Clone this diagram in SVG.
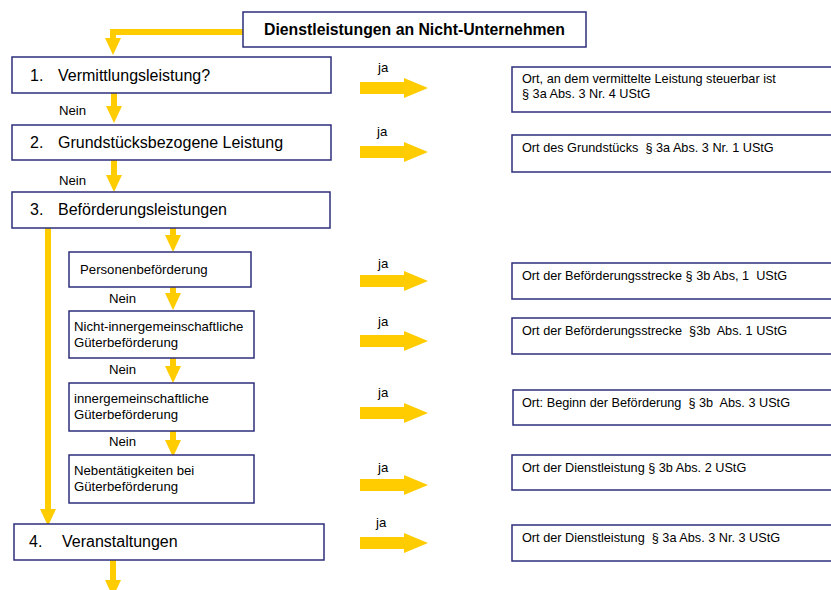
<svg xmlns="http://www.w3.org/2000/svg" width="831" height="590" viewBox="0 0 831 590">
<style>
.box{fill:#fff;stroke:#2e2e7c;stroke-width:1.5}
.t{font-family:"Liberation Sans",Arial,sans-serif;fill:#000;white-space:pre}
.big{font-size:16px}
.title{font-size:15.8px;font-weight:bold}
.sm{font-size:13.2px}
.rt{font-size:12.7px}
.ys{stroke:#FFCC00;stroke-width:6;fill:none}
</style>
<defs>
<path id="ra" d="M0,-6 H44 V-10 L68,0 L44,10 V6 H0 Z" fill="#FFCC00"/>
<path id="da" d="M-8,0 L8,0 L0,17 Z" fill="#FFCC00"/>
</defs>
<rect width="831" height="590" fill="#fff"/>
<g id="connectors">
<polyline class="ys" points="243,32 113,32 113,39"/>
<use href="#da" x="113" y="38"/>
<line class="ys" x1="114" y1="93" x2="114" y2="107"/>
<use href="#da" x="114" y="106"/>
<line class="ys" x1="114" y1="160" x2="114" y2="176"/>
<use href="#da" x="114" y="175"/>
<line class="ys" x1="173" y1="228" x2="173" y2="236"/>
<use href="#da" x="173" y="235"/>
<line class="ys" x1="173" y1="287" x2="173" y2="294"/>
<use href="#da" x="173" y="293"/>
<line class="ys" x1="173" y1="358" x2="173" y2="367"/>
<use href="#da" x="173" y="366"/>
<line class="ys" x1="173" y1="431" x2="173" y2="441"/>
<use href="#da" x="173" y="440"/>
<line class="ys" x1="48" y1="228" x2="48" y2="511"/>
<use href="#da" x="48" y="509"/>
<line class="ys" x1="113" y1="560" x2="113" y2="581"/>
<use href="#da" x="113" y="580"/>
<use href="#ra" x="360" y="88"/>
<use href="#ra" x="360" y="152"/>
<use href="#ra" x="360" y="281"/>
<use href="#ra" x="360" y="341"/>
<use href="#ra" x="360" y="413"/>
<use href="#ra" x="360" y="485"/>
<use href="#ra" x="360" y="543"/>
<text class="t sm" x="378" y="72">ja</text>
<text class="t sm" x="377" y="136">ja</text>
<text class="t sm" x="378" y="268">ja</text>
<text class="t sm" x="378" y="326">ja</text>
<text class="t sm" x="378" y="397">ja</text>
<text class="t sm" x="378" y="472">ja</text>
<text class="t sm" x="376" y="527">ja</text>
<text class="t sm" x="59" y="115">Nein</text>
<text class="t sm" x="59" y="185">Nein</text>
<text class="t sm" x="109" y="303">Nein</text>
<text class="t sm" x="109" y="374">Nein</text>
<text class="t sm" x="109" y="446">Nein</text>
</g>
<g id="title">
<rect class="box" x="243" y="12" width="343" height="35"/>
<text class="t title" x="414.5" y="35" text-anchor="middle">Dienstleistungen an Nicht-Unternehmen</text>
</g>
<g id="n1">
<rect class="box" x="12" y="57" width="319" height="36"/>
<text class="t big" x="30" y="81">1.</text>
<text class="t big" x="58" y="81">Vermittlungsleistung?</text>
</g>
<g id="n2">
<rect class="box" x="12" y="125" width="319" height="35"/>
<text class="t big" x="30" y="148">2.</text>
<text class="t big" x="58" y="148">Grundstücksbezogene Leistung</text>
</g>
<g id="n3">
<rect class="box" x="12" y="192" width="318" height="36"/>
<text class="t big" x="30" y="215">3.</text>
<text class="t big" x="58" y="215">Beförderungsleistungen</text>
</g>
<g id="n3a">
<rect class="box" x="69" y="252" width="182" height="35"/>
<text class="t sm" x="80" y="274">Personenbeförderung</text>
</g>
<g id="n3b">
<rect class="box" x="69" y="311" width="185" height="47"/>
<text class="t sm" x="74" y="331">Nicht-innergemeinschaftliche</text>
<text class="t sm" x="74" y="347">Güterbeförderung</text>
</g>
<g id="n3c">
<rect class="box" x="69" y="383" width="185" height="48"/>
<text class="t sm" x="74" y="403">innergemeinschaftliche</text>
<text class="t sm" x="74" y="419">Güterbeförderung</text>
</g>
<g id="n3d">
<rect class="box" x="69" y="455" width="185" height="48"/>
<text class="t sm" x="74" y="475">Nebentätigkeiten bei</text>
<text class="t sm" x="74" y="491">Güterbeförderung</text>
</g>
<g id="n4">
<rect class="box" x="14" y="524" width="310" height="36"/>
<text class="t big" x="29" y="547">4.</text>
<text class="t big" x="62" y="547">Veranstaltungen</text>
</g>
<g id="r1">
<rect class="box" x="512" y="67" width="330" height="45"/>
<text class="t rt" x="522" y="83">Ort, an dem vermittelte Leistung steuerbar ist</text>
<text class="t rt" x="522" y="98">§ 3a Abs. 3 Nr. 4 UStG</text>
</g>
<g id="r2">
<rect class="box" x="512" y="135" width="330" height="37"/>
<text class="t rt" x="522" y="152">Ort des Grundstücks  § 3a Abs. 3 Nr. 1 UStG</text>
</g>
<g id="r3">
<rect class="box" x="512" y="263" width="330" height="36"/>
<text class="t rt" x="522" y="280">Ort der Beförderungsstrecke § 3b Abs, 1  UStG</text>
</g>
<g id="r4">
<rect class="box" x="512" y="318" width="330" height="36"/>
<text class="t rt" x="522" y="335">Ort der Beförderungsstrecke  §3b  Abs. 1 UStG</text>
</g>
<g id="r5">
<rect class="box" x="513" y="390" width="330" height="35"/>
<text class="t rt" x="522" y="407">Ort: Beginn der Beförderung  § 3b  Abs. 3 UStG</text>
</g>
<g id="r6">
<rect class="box" x="512" y="455" width="330" height="35"/>
<text class="t rt" x="522" y="472">Ort der Dienstleistung § 3b Abs. 2 UStG</text>
</g>
<g id="r7">
<rect class="box" x="512" y="525" width="330" height="36"/>
<text class="t rt" x="522" y="542">Ort der Dienstleistung  § 3a Abs. 3 Nr. 3 UStG</text>
</g>
</svg>
